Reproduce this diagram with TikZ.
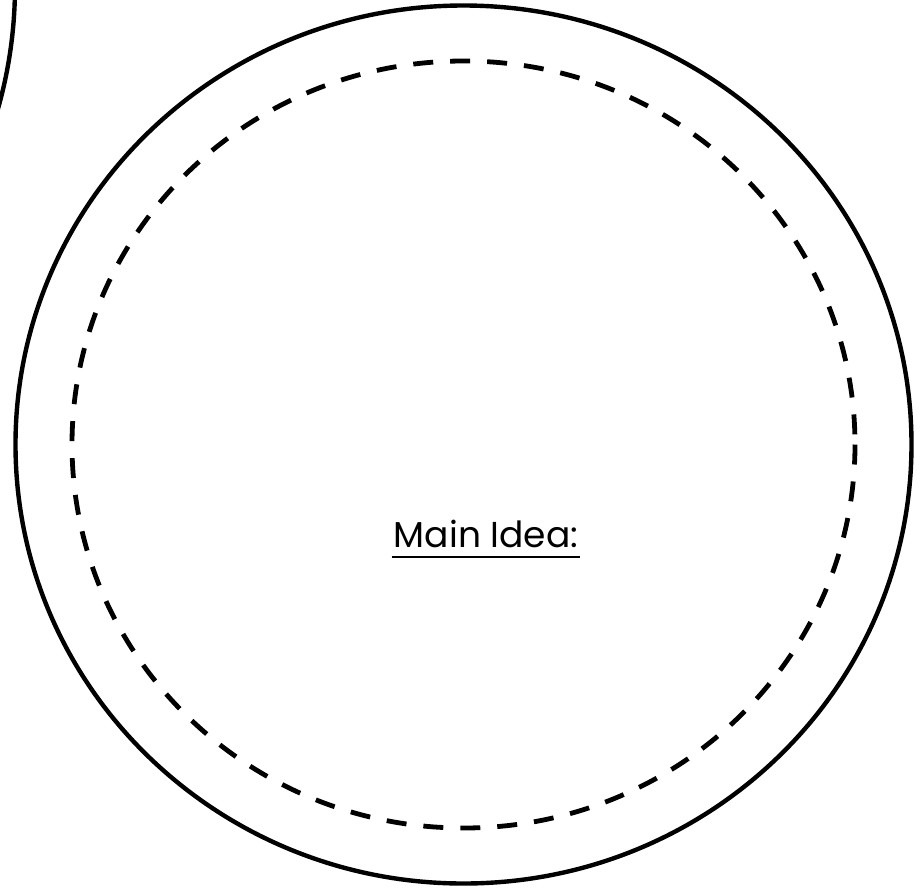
\documentclass[tikz,border=0pt]{standalone}
\usepackage{xcolor}
\usepackage{fontspec}
\usepackage{tikz}
\usetikzlibrary{positioning,calc}
\newfontfamily\ideafont{Poppins}
\definecolor{inkLine}{HTML}{000000}

\begin{document}
\begin{tikzpicture}[x=1pt, y=-1pt, line width=4.4pt, draw=inkLine]
  \useasboundingbox (0,0) rectangle (920,887);
  \clip (0,0) rectangle (920,887);
  % neighbouring circle, mostly off the page
  \coordinate (nbr) at (-433,-14);
  \draw (nbr) circle [radius=448];
  % outer ring and dashed guide
  \coordinate (hub) at (463.5,444.5);
  \draw (hub) ellipse [x radius=448, y radius=439];
  \draw[line width=4.8pt, dash pattern=on 20pt off 17pt] (hub) ellipse [x radius=391.5, y radius=383.5];
  \node[anchor=base, inner sep=0pt, font=\ideafont\fontsize{36}{40}\selectfont, text=inkLine]
    (idea) at (486,547) {Main Idea:};
  \draw[line width=2.6pt] ([yshift=-10pt]idea.base west) -- ([yshift=-10pt]idea.base east);
\end{tikzpicture}
\end{document}
